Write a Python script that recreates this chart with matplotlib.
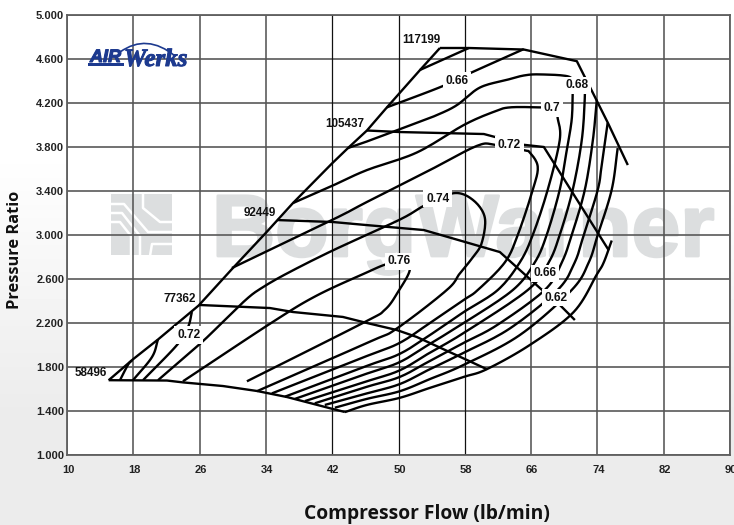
import numpy as np
import matplotlib
matplotlib.use("Agg")
import matplotlib.pyplot as plt
import matplotlib.patheffects as pe
from matplotlib.patches import Rectangle, PathPatch
from matplotlib.path import Path
from matplotlib.transforms import Affine2D, ScaledTranslation

W, H = 734, 525

x_ticks = [10, 18, 26, 34, 42, 50, 58, 66, 74, 82, 90]
y_ticks = [1.0, 1.4, 1.8, 2.2, 2.6, 3.0, 3.4, 3.8, 4.2, 4.6, 5.0]
thin_black_x = [42, 50, 58]

surge_flow = [15.03, 17.96, 20.98, 25.9, 29.9, 34.0, 37.26, 41.97, 43.9, 46.19, 48.6, 52.6, 55.0]
surge_pr = [1.68, 1.87, 2.05, 2.36, 2.69, 3.02, 3.29, 3.65, 3.79, 3.95, 4.16, 4.5, 4.7]

speed_117199_flow = [55.0, 58.49, 65.13, 71.52, 72.48, 73.2, 75.26, 77.67]
speed_117199_pr = [4.7, 4.7, 4.686, 4.58, 4.436, 4.33, 4.02, 3.636]
speed_105437_flow = [46.19, 50.17, 60.3, 62.2, 65.13, 67.54, 75.38]
speed_105437_pr = [3.95, 3.936, 3.918, 3.88, 3.82, 3.8, 2.86]
speed_92449_flow = [35.33, 42.09, 46.19, 53.06, 62.23, 67.18, 69.47, 71.28]
speed_92449_pr = [3.136, 3.118, 3.09, 3.045, 2.845, 2.51, 2.364, 2.227]
speed_77362_flow = [25.92, 34.49, 37.26, 43.29, 46.19, 49.8, 52.2, 58.25, 60.66]
speed_77362_pr = [2.364, 2.336, 2.3, 2.255, 2.2, 2.136, 2.073, 1.864, 1.78]
speed_58496_flow = [15.03, 22.06, 24.0, 28.82, 32.92, 36.54, 42.09, 43.53]
speed_58496_pr = [1.68, 1.677, 1.66, 1.627, 1.582, 1.527, 1.418, 1.391]

l1_flow = [16.39, 17.36, 17.84]
l1_pr = [1.68, 1.82, 1.86]
l2_flow = [17.96, 20.25, 20.98]
l2_pr = [1.68, 1.89, 2.05]
l3_flow = [19.17, 23.27, 24.59, 25.07]
l3_pr = [1.68, 2.0, 2.16, 2.30]

eff_074_flow = [20.98, 26.04, 28.81, 31.71, 33.52, 36.53, 42.08, 50.16, 53.18, 56.67, 58.96, 60.41, 60.05, 59.0, 57.39, 55.83, 49.8, 46.54, 32.92]
eff_074_pr = [1.68, 2.01, 2.21, 2.42, 2.52, 2.65, 2.86, 3.14, 3.27, 3.38, 3.32, 3.16, 2.93, 2.80, 2.65, 2.50, 2.15, 2.03, 1.58]
eff_076_flow = [23.99, 34.84, 40.15, 46.18, 48.35, 50.0, 51.37, 49.92, 48.35, 45.7, 31.71]
eff_076_pr = [1.67, 2.21, 2.45, 2.66, 2.73, 2.76, 2.69, 2.48, 2.32, 2.2, 1.67]
eff_072_flow = [29.9, 42.08, 46.18, 53.78, 59.45, 61.62, 65.12, 65.84, 66.8, 66.2, 64.39, 62.82, 59.57, 57.88, 53.78, 50.16, 46.18, 34.72]
eff_072_pr = [2.70, 3.14, 3.30, 3.59, 3.81, 3.82, 3.77, 3.75, 3.62, 3.41, 3.0, 2.75, 2.5, 2.41, 2.20, 2.02, 1.90, 1.56]
eff_070_flow = [37.26, 42.08, 46.18, 52.21, 57.88, 61.5, 63.42, 67.04, 68.85, 69.21, 69.45, 68.0, 66.2, 64.63, 61.98, 57.88, 53.78, 50.16, 46.18, 36.29]
eff_070_pr = [3.29, 3.45, 3.59, 3.75, 4.0, 4.12, 4.16, 4.16, 4.15, 4.06, 3.86, 3.41, 3.0, 2.75, 2.5, 2.30, 2.09, 1.92, 1.81, 1.53]
eff_068_flow = [43.88, 46.18, 52.21, 54.62, 57.03, 59.81, 63.07, 65.12, 67.04, 70.54, 71.02, 71.02, 70.9, 70.3, 69.45, 67.88, 66.44, 63.8, 57.88, 53.78, 50.16, 46.18, 37.5]
eff_068_pr = [3.79, 3.85, 4.02, 4.09, 4.18, 4.34, 4.41, 4.45, 4.46, 4.44, 4.36, 4.3, 4.05, 3.77, 3.41, 3.0, 2.75, 2.5, 2.20, 2.01, 1.845, 1.74, 1.51]
eff_066_top_flow = [48.59, 55.22, 58.6, 65.12]
eff_066_top_pr = [4.16, 4.35, 4.47, 4.69]
eff_066_flow = [72.47, 72.47, 72.11, 71.02, 69.45, 68.12, 65.6, 57.88, 53.78, 50.16, 46.18, 38.7]
eff_066_pr = [4.44, 4.23, 3.86, 3.41, 3.0, 2.75, 2.5, 2.11, 1.93, 1.77, 1.67, 1.49]
eff_064_top_flow = [52.58, 58.49]
eff_064_top_pr = [4.5, 4.7]
eff_064_flow = [73.93, 73.45, 72.48, 70.9, 69.7, 67.65, 61.87, 57.88, 53.78, 50.16, 46.18, 39.9]
eff_064_pr = [4.23, 3.86, 3.41, 3.0, 2.75, 2.5, 2.18, 2.02, 1.855, 1.71, 1.62, 1.47]
eff_062_flow = [75.24, 74.52, 74.04, 72.35, 71.26, 69.2, 63.43, 57.88, 53.78, 50.16, 46.18, 41.11]
eff_062_pr = [4.02, 3.64, 3.41, 3.0, 2.75, 2.5, 2.15, 1.93, 1.78, 1.645, 1.56, 1.455]
eff_060_flow = [76.45, 75.72, 74.04, 72.95, 70.9, 64.63, 57.88, 53.78, 50.16, 46.18, 42.32]
eff_060_pr = [3.79, 3.41, 3.0, 2.75, 2.5, 2.09, 1.82, 1.69, 1.58, 1.51, 1.43]
eff_058_flow = [75.73, 74.76, 73.92, 71.14, 65.84, 60.65, 57.88, 53.78, 50.16, 46.18, 43.53]
eff_058_pr = [2.95, 2.75, 2.64, 2.3, 2.0, 1.78, 1.71, 1.61, 1.52, 1.455, 1.39]

eff_label_text = ["0.66", "0.68", "0.7", "0.72", "0.74", "0.76", "0.72", "0.66", "0.62"]
eff_label_flow = [57.03, 71.5, 68.49, 63.4, 54.74, 50.04, 24.7, 67.65, 69.0]
eff_label_pr = [4.40, 4.36, 4.15, 3.82, 3.33, 2.76, 2.09, 2.65, 2.43]

speed_label_text = ["117199", "105437", "92449", "77362", "58496"]
speed_label_flow = [52.8, 43.53, 33.27, 23.63, 12.89]
speed_label_pr = [4.77, 4.01, 3.2, 2.42, 1.75]


def smooth(fx, fy, n=12):
    """Catmull-Rom rendering of a hand-read curve (drawing only)."""
    p = np.column_stack([fx, fy]).astype(float)
    if len(p) < 3:
        return p[:, 0], p[:, 1]
    p = np.vstack([2 * p[0] - p[1], p, 2 * p[-1] - p[-2]])
    out = []
    t = np.linspace(0, 1, n, endpoint=False)[:, None]
    for i in range(1, len(p) - 2):
        a, b, c, d = p[i - 1], p[i], p[i + 1], p[i + 2]
        out.append(0.5 * (2 * b + (c - a) * t + (2 * a - 5 * b + 4 * c - d) * t ** 2
                          + (3 * b - a - 3 * c + d) * t ** 3))
    out.append(p[-2][None, :])
    out = np.vstack(out)
    return out[:, 0], out[:, 1]


fig = plt.figure(figsize=(W / 100, H / 100), dpi=100, facecolor="white")

bg = fig.add_axes([0, 0, 1, 1], zorder=-1)
grad = np.interp(np.arange(H), [0, 150, 420, H], [1.0, 1.0, 0.922, 0.922])
bg.imshow(grad[:, None], aspect="auto", cmap="gray", vmin=0, vmax=1, extent=[0, 1, 0, 1])
bg.axis("off")

ax = fig.add_axes([67 / W, 1 - 455 / H, (730 - 67) / W, 440 / H])
ax.set_xlim(10, 90)
ax.set_ylim(1, 5)
ax.set_facecolor("white")

pix = Affine2D().scale(1 / W, -1 / H).translate(0, 1) + fig.transFigure

for v in y_ticks:
    ax.axhline(v, color="#5f5f5f", lw=1.25, zorder=1)
for v in x_ticks:
    if v in thin_black_x:
        ax.axvline(v, color="#111111", lw=0.9, zorder=1)
    else:
        ax.axvline(v, color="#555555", lw=1.15, zorder=1)
for s in ax.spines.values():
    s.set_color("#5f5f5f")
    s.set_linewidth(1.3)

ax.set_xticks(x_ticks)
ax.set_yticks(y_ticks)
ax.set_xticklabels([str(v) for v in x_ticks], fontsize=8, fontweight="bold",
                   family="Liberation Sans", color="#222222")
ax.set_yticklabels([f"{v:.3f}" for v in y_ticks], fontsize=8, fontweight="bold",
                   family="Liberation Sans", color="#222222")
ax.tick_params(length=0, pad=2)
ax.tick_params(axis="x", pad=7)
shift = ScaledTranslation(1 / 100, 0, fig.dpi_scale_trans)
for t in ax.get_xticklabels():
    t.set_transform(t.get_transform() + shift)

wm = "#dcdedf"
ax.text(212, 256, "BorgWarner", transform=pix, fontsize=63, fontweight="bold",
        family="Liberation Sans", color=wm, ha="left", va="baseline", zorder=0.3, clip_on=False,
        path_effects=[pe.withStroke(linewidth=2, foreground=wm)])
ax.add_patch(Rectangle((111, 194), 61, 61, transform=pix, fc=wm, ec="none", zorder=0.3))
for seg in [[(111, 204), (124, 204), (148, 232), (172, 232)],
            [(111, 213), (122, 213), (140, 236), (140, 256)],
            [(111, 222), (120, 222), (131, 236), (131, 256)],
            [(143, 194), (143, 208), (160, 222), (172, 222)],
            [(172, 244), (152, 244), (150, 256)]]:
    xs, ys = zip(*seg)
    ax.plot(xs, ys, transform=pix, color="white", lw=1.8, zorder=0.4, solid_capstyle="butt")

blue = "#1d3a8f"
ax.text(90, 62, "AIR", transform=pix, fontsize=13, fontweight="bold", style="italic",
        family="Liberation Sans", color=blue, va="baseline", ha="left", zorder=6,
        path_effects=[pe.withStroke(linewidth=0.8, foreground=blue)])
ax.text(124, 66, "Werks", transform=pix, fontsize=18, fontweight="bold", style="italic",
        family="Liberation Serif", color=blue, va="baseline", ha="left", zorder=6,
        path_effects=[pe.withStroke(linewidth=0.7, foreground=blue)])
ax.add_patch(Rectangle((88, 63), 36, 2.5, transform=pix, fc=blue, ec="none", zorder=6))
ax.add_patch(PathPatch(Path([(120, 52), (147, 33), (175, 56)], [Path.MOVETO, Path.CURVE3, Path.CURVE3]),
                       transform=pix, fc="none", ec=blue, lw=1.2, zorder=6))

speeds = [(surge_flow, surge_pr), (speed_117199_flow, speed_117199_pr),
          (speed_105437_flow, speed_105437_pr), (speed_92449_flow, speed_92449_pr),
          (speed_77362_flow, speed_77362_pr), (speed_58496_flow, speed_58496_pr)]
contours = [(l1_flow, l1_pr), (l2_flow, l2_pr), (l3_flow, l3_pr),
            (eff_074_flow, eff_074_pr), (eff_076_flow, eff_076_pr), (eff_072_flow, eff_072_pr),
            (eff_070_flow, eff_070_pr), (eff_068_flow, eff_068_pr),
            (eff_066_top_flow, eff_066_top_pr), (eff_066_flow, eff_066_pr),
            (eff_064_top_flow, eff_064_top_pr), (eff_064_flow, eff_064_pr),
            (eff_062_flow, eff_062_pr), (eff_060_flow, eff_060_pr), (eff_058_flow, eff_058_pr)]
for fx, fy in contours:
    sx, sy = smooth(fx, fy)
    ax.plot(sx, sy, color="black", lw=1.7, zorder=3, solid_joinstyle="round", solid_capstyle="butt")
for fx, fy in speeds:
    ax.plot(fx, fy, color="black", lw=1.7, zorder=3, solid_joinstyle="round", solid_capstyle="butt")

for t, fx, fy in zip(eff_label_text, eff_label_flow, eff_label_pr):
    ax.text(fx, fy, t, fontsize=8.6, fontweight="bold", family="Liberation Sans", color="#111111",
            ha="center", va="center", zorder=5, bbox=dict(fc="white", ec="none", pad=2))
for t, fx, fy in zip(speed_label_text, speed_label_flow, speed_label_pr):
    ax.text(fx, fy, t, fontsize=8.4, fontweight="bold", family="Liberation Sans", color="#111111",
            ha="center", va="center", zorder=5)

fig.text(427 / W, 1 - 514 / H, "Compressor Flow (lb/min)", fontsize=13.9, fontweight="bold",
         family="Open Sans", color="#111111", ha="center", va="center")
fig.text(15 / W, 1 - 250 / H, "Pressure Ratio", fontsize=11.8, fontweight="bold",
         family="Open Sans", color="#111111", ha="center", va="center", rotation=90)

fig.savefig("out.png", dpi=100, facecolor=fig.get_facecolor())
